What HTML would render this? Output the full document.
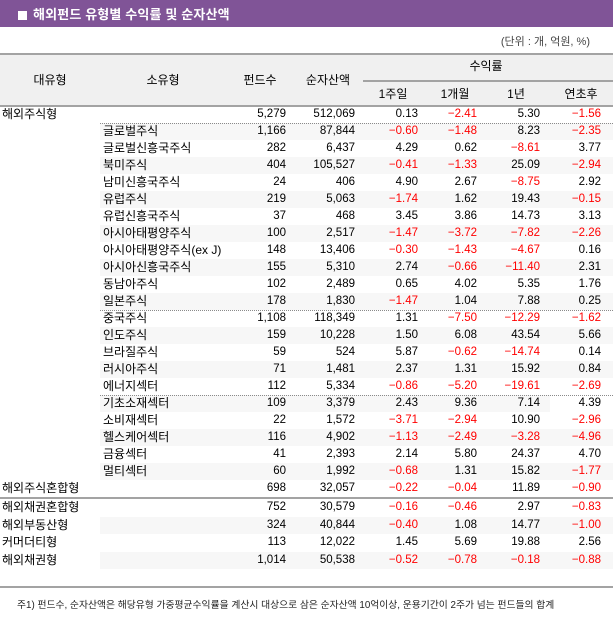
<!DOCTYPE html>
<html><head><meta charset="utf-8">
<style>
html,body{margin:0;padding:0;}
body{width:613px;height:618px;position:relative;background:#fff;overflow:hidden;font-family:"Liberation Sans","Noto Sans CJK KR",sans-serif;color:#000;}
.a{position:absolute;white-space:nowrap;}
.bar{left:0;top:0;width:613px;height:27px;background:#805497;}
.sq{left:18px;top:11px;width:9px;height:9px;background:#fff;}
.title{left:33px;top:6px;line-height:17px;font-size:13px;letter-spacing:0.15px;font-weight:bold;color:#fff;}
.unit{right:23px;top:34px;line-height:17px;font-size:11px;color:#444;}
.hbg{left:0;top:54px;width:613px;height:52px;background:#f0f0f0;}
.hl{left:0;width:613px;height:2px;background:#a3a3a3;}
.hc{width:100px;text-align:center;font-size:12px;line-height:17px;}
.r{position:absolute;left:0;width:613px;height:17px;}
.r.tall{height:17.5px;}
.s{background:#f7f7f7;}
.r span{position:absolute;top:0;line-height:17px;white-space:nowrap;}
.r.tall span{line-height:17.5px;}
.k{font-size:12px;}
.m{left:2px;}
.sub{left:103px;}
.n{font-size:11.5px;}
.c1{right:327px}.c2{right:258px}.c3{right:195px}.c4{right:136px}.c5{right:73px}.c6{right:12px}
.red{color:#f00;}
.dot{left:100px;width:513px;height:0;border-top:1px dotted #8a8a8a;}
.foot{left:17px;top:597px;line-height:17px;font-size:9.8px;color:#222;}
</style></head>
<body>
<div class="a bar"></div>
<div class="a sq"></div>
<div class="a title">해외펀드 유형별 수익률 및 순자산액</div>
<div class="a unit">(단위 : 개, 억원, %)</div>

<div class="a hbg"></div>
<div class="a hl" style="top:53px"></div>
<div class="a hl" style="top:105px"></div>
<div class="a" style="left:363px;top:80px;width:250px;height:1.5px;background:#a3a3a3"></div>

<div class="a hc" style="left:0px;top:72px">대유형</div>
<div class="a hc" style="left:113px;top:72px">소유형</div>
<div class="a hc" style="left:210px;top:72px">펀드수</div>
<div class="a hc" style="left:278px;top:72px">순자산액</div>
<div class="a hc" style="left:436px;top:58px">수익률</div>
<div class="a hc" style="left:343px;top:86px">1주일</div>
<div class="a hc" style="left:405px;top:86px">1개월</div>
<div class="a hc" style="left:466px;top:86px">1년</div>
<div class="a hc" style="left:531px;top:86px">연초후</div>

<!-- rows -->
<div class="r" style="top:106px"><span class="k m">해외주식형</span><span class="n c1">5,279</span><span class="n c2">512,069</span><span class="n c3">0.13</span><span class="n c4 red">−2.41</span><span class="n c5">5.30</span><span class="n c6 red">−1.56</span></div>

<div class="r" style="top:123px"><div class="a s" style="left:100px;top:0;width:513px;height:17px"></div><span class="k sub">글로벌주식</span><span class="n c1">1,166</span><span class="n c2">87,844</span><span class="n c3 red">−0.60</span><span class="n c4 red">−1.48</span><span class="n c5">8.23</span><span class="n c6 red">−2.35</span></div>

<div class="r" style="top:140px"><span class="k sub">글로벌신흥국주식</span><span class="n c1">282</span><span class="n c2">6,437</span><span class="n c3">4.29</span><span class="n c4">0.62</span><span class="n c5 red">−8.61</span><span class="n c6">3.77</span></div>

<div class="r" style="top:157px"><div class="a s" style="left:100px;top:0;width:513px;height:17px"></div><span class="k sub">북미주식</span><span class="n c1">404</span><span class="n c2">105,527</span><span class="n c3 red">−0.41</span><span class="n c4 red">−1.33</span><span class="n c5">25.09</span><span class="n c6 red">−2.94</span></div>

<div class="r" style="top:174px"><span class="k sub">남미신흥국주식</span><span class="n c1">24</span><span class="n c2">406</span><span class="n c3">4.90</span><span class="n c4">2.67</span><span class="n c5 red">−8.75</span><span class="n c6">2.92</span></div>

<div class="r" style="top:191px"><div class="a s" style="left:100px;top:0;width:513px;height:17px"></div><span class="k sub">유럽주식</span><span class="n c1">219</span><span class="n c2">5,063</span><span class="n c3 red">−1.74</span><span class="n c4">1.62</span><span class="n c5">19.43</span><span class="n c6 red">−0.15</span></div>

<div class="r" style="top:208px"><span class="k sub">유럽신흥국주식</span><span class="n c1">37</span><span class="n c2">468</span><span class="n c3">3.45</span><span class="n c4">3.86</span><span class="n c5">14.73</span><span class="n c6">3.13</span></div>

<div class="r" style="top:225px"><div class="a s" style="left:100px;top:0;width:513px;height:17px"></div><span class="k sub">아시아태평양주식</span><span class="n c1">100</span><span class="n c2">2,517</span><span class="n c3 red">−1.47</span><span class="n c4 red">−3.72</span><span class="n c5 red">−7.82</span><span class="n c6 red">−2.26</span></div>

<div class="r" style="top:242px"><span class="k sub">아시아태평양주식(ex J)</span><span class="n c1">148</span><span class="n c2">13,406</span><span class="n c3 red">−0.30</span><span class="n c4 red">−1.43</span><span class="n c5 red">−4.67</span><span class="n c6">0.16</span></div>

<div class="r" style="top:259px"><div class="a s" style="left:100px;top:0;width:513px;height:17px"></div><span class="k sub">아시아신흥국주식</span><span class="n c1">155</span><span class="n c2">5,310</span><span class="n c3">2.74</span><span class="n c4 red">−0.66</span><span class="n c5 red">−11.40</span><span class="n c6">2.31</span></div>

<div class="r" style="top:276px"><span class="k sub">동남아주식</span><span class="n c1">102</span><span class="n c2">2,489</span><span class="n c3">0.65</span><span class="n c4">4.02</span><span class="n c5">5.35</span><span class="n c6">1.76</span></div>

<div class="r" style="top:293px"><div class="a s" style="left:100px;top:0;width:513px;height:17px"></div><span class="k sub">일본주식</span><span class="n c1">178</span><span class="n c2">1,830</span><span class="n c3 red">−1.47</span><span class="n c4">1.04</span><span class="n c5">7.88</span><span class="n c6">0.25</span></div>

<div class="r" style="top:310px"><span class="k sub">중국주식</span><span class="n c1">1,108</span><span class="n c2">118,349</span><span class="n c3">1.31</span><span class="n c4 red">−7.50</span><span class="n c5 red">−12.29</span><span class="n c6 red">−1.62</span></div>

<div class="r" style="top:327px"><div class="a s" style="left:100px;top:0;width:513px;height:17px"></div><span class="k sub">인도주식</span><span class="n c1">159</span><span class="n c2">10,228</span><span class="n c3">1.50</span><span class="n c4">6.08</span><span class="n c5">43.54</span><span class="n c6">5.66</span></div>

<div class="r" style="top:344px"><span class="k sub">브라질주식</span><span class="n c1">59</span><span class="n c2">524</span><span class="n c3">5.87</span><span class="n c4 red">−0.62</span><span class="n c5 red">−14.74</span><span class="n c6">0.14</span></div>

<div class="r" style="top:361px"><div class="a s" style="left:100px;top:0;width:513px;height:17px"></div><span class="k sub">러시아주식</span><span class="n c1">71</span><span class="n c2">1,481</span><span class="n c3">2.37</span><span class="n c4">1.31</span><span class="n c5">15.92</span><span class="n c6">0.84</span></div>

<div class="r" style="top:378px"><span class="k sub">에너지섹터</span><span class="n c1">112</span><span class="n c2">5,334</span><span class="n c3 red">−0.86</span><span class="n c4 red">−5.20</span><span class="n c5 red">−19.61</span><span class="n c6 red">−2.69</span></div>

<div class="r" style="top:395px"><div class="a s" style="left:100px;top:0;width:450px;height:17px"></div><span class="k sub">기초소재섹터</span><span class="n c1">109</span><span class="n c2">3,379</span><span class="n c3">2.43</span><span class="n c4">9.36</span><span class="n c5">7.14</span><span class="n c6">4.39</span></div>

<div class="r" style="top:412px"><span class="k sub">소비재섹터</span><span class="n c1">22</span><span class="n c2">1,572</span><span class="n c3 red">−3.71</span><span class="n c4 red">−2.94</span><span class="n c5">10.90</span><span class="n c6 red">−2.96</span></div>

<div class="r" style="top:429px"><div class="a s" style="left:100px;top:0;width:513px;height:17px"></div><span class="k sub">헬스케어섹터</span><span class="n c1">116</span><span class="n c2">4,902</span><span class="n c3 red">−1.13</span><span class="n c4 red">−2.49</span><span class="n c5 red">−3.28</span><span class="n c6 red">−4.96</span></div>

<div class="r" style="top:446px"><span class="k sub">금융섹터</span><span class="n c1">41</span><span class="n c2">2,393</span><span class="n c3">2.14</span><span class="n c4">5.80</span><span class="n c5">24.37</span><span class="n c6">4.70</span></div>

<div class="r" style="top:463px"><div class="a s" style="left:100px;top:0;width:513px;height:17px"></div><span class="k sub">멀티섹터</span><span class="n c1">60</span><span class="n c2">1,992</span><span class="n c3 red">−0.68</span><span class="n c4">1.31</span><span class="n c5">15.82</span><span class="n c6 red">−1.77</span></div>

<div class="r" style="top:480px"><span class="k m">해외주식혼합형</span><span class="n c1">698</span><span class="n c2">32,057</span><span class="n c3 red">−0.22</span><span class="n c4 red">−0.04</span><span class="n c5">11.89</span><span class="n c6 red">−0.90</span></div>

<div class="a" style="left:0;top:497px;width:613px;height:1.5px;background:#a3a3a3"></div>

<div class="r tall" style="top:499px"><span class="k m">해외채권혼합형</span><span class="n c1">752</span><span class="n c2">30,579</span><span class="n c3 red">−0.16</span><span class="n c4 red">−0.46</span><span class="n c5">2.97</span><span class="n c6 red">−0.83</span></div>

<div class="r tall" style="top:516.5px"><div class="a s" style="left:100px;top:0;width:513px;height:17.5px"></div><span class="k m">해외부동산형</span><span class="n c1">324</span><span class="n c2">40,844</span><span class="n c3 red">−0.40</span><span class="n c4">1.08</span><span class="n c5">14.77</span><span class="n c6 red">−1.00</span></div>

<div class="r tall" style="top:534px"><span class="k m">커머더티형</span><span class="n c1">113</span><span class="n c2">12,022</span><span class="n c3">1.45</span><span class="n c4">5.69</span><span class="n c5">19.88</span><span class="n c6">2.56</span></div>

<div class="r tall" style="top:551.5px"><div class="a s" style="left:100px;top:0;width:513px;height:17.5px"></div><span class="k m">해외채권형</span><span class="n c1">1,014</span><span class="n c2">50,538</span><span class="n c3 red">−0.52</span><span class="n c4 red">−0.78</span><span class="n c5 red">−0.18</span><span class="n c6 red">−0.88</span></div>

<!-- dotted separators -->
<div class="a dot" style="top:123px"></div>
<div class="a dot" style="top:310px"></div>
<div class="a dot" style="top:395px"></div>

<div class="a hl" style="top:586px"></div>
<div class="a foot">주1) 펀드수, 순자산액은 해당유형 가중평균수익률을 계산시 대상으로 삼은 순자산액 10억이상, 운용기간이 2주가 넘는 펀드들의 합계</div>
</body></html>
